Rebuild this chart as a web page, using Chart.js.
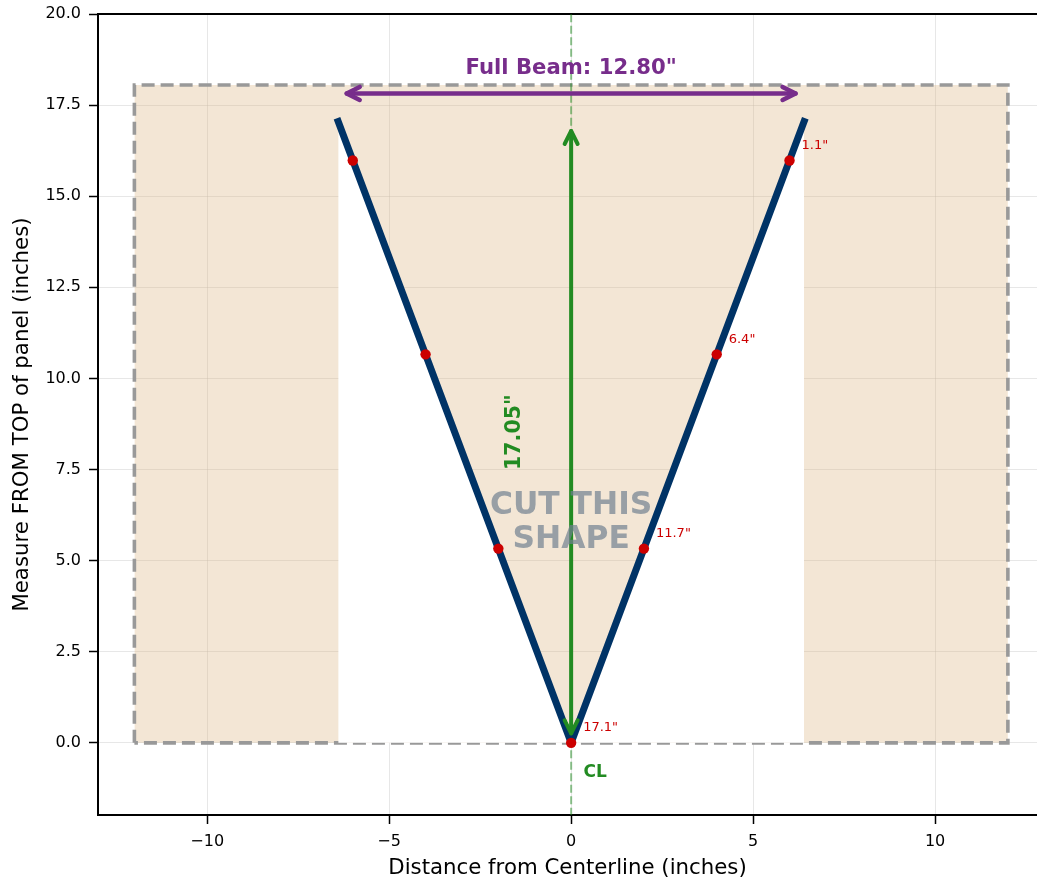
<!DOCTYPE html>
<html>
<head>
<meta charset="utf-8">
<script src="https://cdn.jsdelivr.net/npm/chart.js@4.4.1/dist/chart.umd.min.js"></script>
<style>
html,body{margin:0;padding:0;background:#fff;overflow:hidden;}
canvas{display:block;}
</style>
</head>
<body>
<canvas id="chart" width="1037" height="884"></canvas>
<script>
// ticks
const xTicks = [-10, -5, 0, 5, 10];
const yTicks = [0, 2.5, 5, 7.5, 10, 12.5, 15, 17.5, 20];

// panel outline
const panelX = [-12, 12];
const panelTop = 18.05;

// V cut line
const cutX = [-6.4, 0, 6.4];
const cutY = [17.05, 0, 17.05];

// measuring stations
const stationX = [-6, -4, -2, 0, 2, 4, 6];
const stationY = [15.98, 10.66, 5.33, 0, 5.33, 10.66, 15.98];
const stationLabels = ['', '', '', '17.1"', '11.7"', '6.4"', '1.1"'];

// arrows
const beamArrowX = [-6.4, 6.4];
const beamArrowY = 17.82;
const depthArrowY = [0, 17.05];

const FONT = "'DejaVu Sans', sans-serif";
const TAN = 'rgba(222,184,135,0.35)';
const NAVY = '#003366';
const GREEN = '#228B22';
const PURPLE = '#772d8b';
const RED = '#cc0000';

// ANNOTATIONS
function drawArrow(ctx, x1, y1, x2, y2, color, w, shrink){
  const a = Math.atan2(y2-y1, x2-x1);
  const c = Math.cos(a), s = Math.sin(a);
  const sx = x1 + c*shrink, sy = y1 + s*shrink;
  const ex = x2 - c*shrink, ey = y2 - s*shrink;
  ctx.save();
  ctx.strokeStyle = color; ctx.lineWidth = w;
  ctx.lineCap = 'round'; ctx.lineJoin = 'round';
  ctx.beginPath(); ctx.moveTo(sx, sy); ctx.lineTo(ex, ey); ctx.stroke();
  const L = 13, W = 6.5;
  [[ex, ey, c, s], [sx, sy, -c, -s]].forEach(([tx, ty, dc, ds]) => {
    const bx = tx - dc*L, by = ty - ds*L;
    ctx.beginPath();
    ctx.moveTo(bx - ds*W, by + dc*W);
    ctx.lineTo(tx, ty);
    ctx.lineTo(bx + ds*W, by - dc*W);
    ctx.stroke();
  });
  ctx.restore();
}

function text(ctx, str, x, y, font, color, rot){
  ctx.save();
  ctx.font = font; ctx.fillStyle = color;
  ctx.textAlign = 'center'; ctx.textBaseline = 'middle';
  ctx.translate(x, y);
  if (rot) ctx.rotate(rot);
  ctx.fillText(str, 0, 0);
  ctx.restore();
}

const annotations = {
  id: 'annotations',
  afterDatasetDraw(chart, args){
    if (args.meta.label !== 'cut') return;
    const {ctx} = chart, xs = chart.scales.x, ys = chart.scales.y;
    // depth arrow
    drawArrow(ctx, xs.getPixelForValue(0), ys.getPixelForValue(depthArrowY[0]),
      xs.getPixelForValue(0), ys.getPixelForValue(depthArrowY[1]), GREEN, 4, 9.5);
    // beam arrow
    drawArrow(ctx, xs.getPixelForValue(beamArrowX[0]), ys.getPixelForValue(beamArrowY),
      xs.getPixelForValue(beamArrowX[1]), ys.getPixelForValue(beamArrowY), PURPLE, 4.5, 8.5);
  },
  afterDatasetsDraw(chart){
    const {ctx} = chart, xs = chart.scales.x, ys = chart.scales.y;
    const X = v => xs.getPixelForValue(v), Y = v => ys.getPixelForValue(v);
    text(ctx, 'Full Beam: 12.80"', X(0), Y(18.5), `bold 21.2px ${FONT}`, PURPLE);
    text(ctx, '17.05"', X(-1.54), Y(8.525), `bold 20.5px ${FONT}`, GREEN, -Math.PI/2);
    text(ctx, 'CUT THIS', X(0), Y(6.04) - 17.25, `bold 31.3px ${FONT}`, 'rgba(112,128,144,0.7)');
    text(ctx, 'SHAPE', X(0), Y(6.04) + 17.25, `bold 31.3px ${FONT}`, 'rgba(112,128,144,0.7)');
    text(ctx, 'CL', X(0.66), Y(-0.82), `bold 17px ${FONT}`, GREEN);
    ctx.save();
    ctx.font = `13px ${FONT}`; ctx.fillStyle = RED;
    ctx.textAlign = 'left'; ctx.textBaseline = 'middle';
    stationX.forEach((x, i) => {
      if (!stationLabels[i]) return;
      ctx.fillText(stationLabels[i], X(x) + 12, Y(stationY[i]) - 15);
    });
    ctx.restore();
  }
};

const pts = (xs, ys) => xs.map((x, i) => ({x, y: ys[i]}));

new Chart(document.getElementById('chart'), {
  type: 'scatter',
  data: {
    datasets: [
      { label: 'panel', order: 6, showLine: true, fill: 'origin',
        data: pts(panelX, [panelTop, panelTop]),
        backgroundColor: TAN, borderWidth: 0, pointRadius: 0 },
      { label: 'outline', order: 5, showLine: true, fill: false,
        data: pts([panelX[0], panelX[0], panelX[1], panelX[1], panelX[0]], [0, panelTop, panelTop, 0, 0]),
        borderColor: '#999999', borderWidth: 3.6, borderDash: [13, 6], pointRadius: 0 },
      { label: 'centerline', order: 4, showLine: true, fill: false,
        data: pts([0, 0], [-2, 20]),
        borderColor: 'rgba(34,139,34,0.5)', borderWidth: 2, borderDash: [8, 3.5], pointRadius: 0 },
      { label: 'cut', order: 3, showLine: true, fill: 'origin',
        data: pts(cutX, cutY),
        backgroundColor: '#ffffff', borderColor: NAVY, borderWidth: 7,
        borderCapStyle: 'square', borderJoinStyle: 'round', pointRadius: 0 },
      { label: 'stations', order: 1, showLine: false,
        data: pts(stationX, stationY),
        backgroundColor: RED, borderWidth: 0, pointRadius: 5.2 }
    ]
  },
  options: {
    responsive: false,
    animation: false,
    layout: { padding: 0, autoPadding: false },
    plugins: { legend: { display: false }, tooltip: { enabled: false } },
    scales: {
      x: {
        type: 'linear', position: 'bottom', min: -13, max: 12.8,
        afterBuildTicks: s => { s.ticks = xTicks.map(v => ({value: v})); },
        afterFit: s => { s.height = 69; s.paddingLeft = 0; s.paddingRight = 0; },
        grid: { color: 'rgba(176,176,176,0.3)', lineWidth: 1, tickColor: '#000', tickLength: 9, tickWidth: 1.5 },
        border: { color: '#000', width: 2 },
        ticks: { color: '#000', padding: 8, font: { family: FONT, size: 16 },
          callback: v => v < 0 ? '\u2212' + Math.abs(v) : String(v) },
        title: { display: true, text: 'Distance from Centerline (inches)', color: '#000',
          font: { family: FONT, size: 21.3 }, padding: { top: 0, bottom: 3 } }
      },
      x2: {
        type: 'linear', position: 'top', min: -13, max: 12.8,
        afterFit: s => { s.height = 14; s.paddingLeft = 0; s.paddingRight = 0; },
        grid: { display: false },
        border: { color: '#000', width: 2 },
        ticks: { display: false }
      },
      y: {
        type: 'linear', position: 'left', min: -1.98, max: 20,
        afterBuildTicks: s => { s.ticks = yTicks.map(v => ({value: v})); },
        afterFit: s => { s.width = 98; s.paddingTop = 0; s.paddingBottom = 0; },
        grid: { color: 'rgba(176,176,176,0.3)', lineWidth: 1, tickColor: '#000', tickLength: 9, tickWidth: 1.5 },
        border: { color: '#000', width: 2 },
        ticks: { color: '#000', padding: 8, font: { family: FONT, size: 16 },
          callback: v => v.toFixed(1) },
        title: { display: true, text: 'Measure FROM TOP of panel (inches)', color: '#000',
          font: { family: FONT, size: 21.3 }, padding: { top: 10, bottom: 0 } }
      }
    }
  },
  plugins: [annotations]
});
</script>
</body>
</html>
